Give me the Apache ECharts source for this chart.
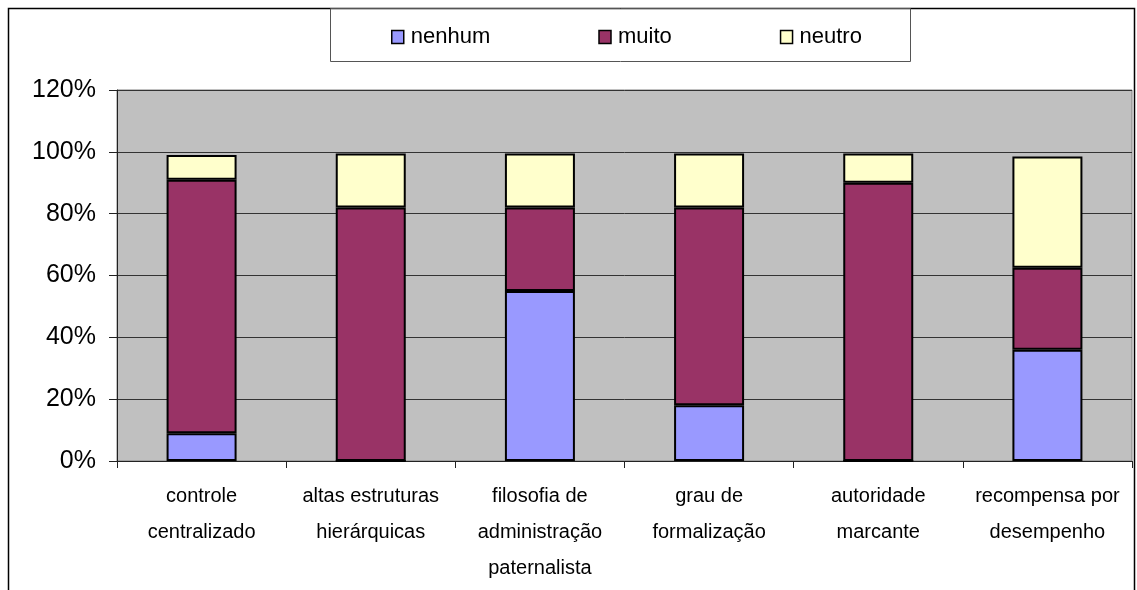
<!DOCTYPE html>
<html>
<head>
<meta charset="utf-8">
<script src="https://cdn.jsdelivr.net/npm/echarts@6/dist/echarts.min.js"></script>
<style>
  html, body { margin: 0; padding: 0; background: #fff; }
  #chart { width: 1137px; height: 590px; }
</style>
</head>
<body>
<div id="chart"></div>
<script>
  // categorias do eixo x
  const categories = [
    'controle\ncentralizado',
    'altas estruturas\nhierárquicas',
    'filosofia de\nadministração\npaternalista',
    'grau de\nformalização',
    'autoridade\nmarcante',
    'recompensa por\ndesempenho'
  ];
  const nenhum = [9, 0, 55, 18, 0, 36];
  const muito = [82, 82, 27, 64, 90, 26.5];
  const neutro = [8, 17.5, 17.5, 17.5, 9.5, 36];
  const yTicks = { min: 0, max: 120, interval: 20 };

  const chart = echarts.init(document.getElementById('chart'));

  const barStyle = (color) => ({
    color: color,
    borderColor: '#000',
    borderWidth: 2
  });

  chart.setOption({
    animation: false,
    backgroundColor: '#fff',
    textStyle: { fontFamily: 'Liberation Sans, Arial, sans-serif' },
    graphic: [
      {
        type: 'rect',
        shape: { x: 8.5, y: 8.5, width: 1126, height: 620 },
        style: { fill: null, stroke: '#000', lineWidth: 1.5 },
        z: 0
      },
      {
        type: 'rect',
        shape: { x: 330.5, y: 8.5, width: 580, height: 53 },
        style: { fill: null, stroke: '#555', lineWidth: 1 },
        z: 1
      }
    ],
    legend: {
      data: ['nenhum', 'muito', 'neutro'],
      left: 386,
      top: 21,
      itemWidth: 12,
      itemHeight: 13,
      itemGap: 108,
      icon: 'rect',
      itemStyle: { borderColor: '#000', borderWidth: 1.5 },
      textStyle: {
        fontFamily: 'Liberation Sans, Arial, sans-serif',
        fontSize: 22,
        color: '#000',
        padding: [0, 0, 0, 2]
      }
    },
    grid: {
      show: true,
      left: 117,
      right: 5,
      top: 90,
      bottom: 129,
      backgroundColor: '#c0c0c0',
      borderColor: '#808080',
      borderWidth: 1
    },
    xAxis: {
      type: 'category',
      data: categories,
      axisLine: { lineStyle: { color: '#222', width: 1 } },
      axisTick: { show: true, length: 7, lineStyle: { color: '#222' } },
      axisLabel: {
        interval: 0,
        margin: 17,
        color: '#000',
        fontSize: 20,
        lineHeight: 36,
        fontFamily: 'Liberation Sans, Arial, sans-serif'
      }
    },
    yAxis: {
      type: 'value',
      min: yTicks.min,
      max: yTicks.max,
      interval: yTicks.interval,
      axisLine: { show: true, lineStyle: { color: '#222', width: 1 } },
      axisTick: { show: true, length: 8, lineStyle: { color: '#222' } },
      splitLine: { lineStyle: { color: '#333', width: 1 } },
      axisLabel: {
        formatter: '{value}%',
        margin: 21,
        color: '#000',
        fontSize: 25,
        fontFamily: 'Liberation Sans, Arial, sans-serif'
      }
    },
    series: [
      { name: 'nenhum', type: 'bar', stack: 'total', barWidth: 70, data: nenhum, itemStyle: barStyle('#9999ff') },
      { name: 'muito', type: 'bar', stack: 'total', barWidth: 70, data: muito, itemStyle: barStyle('#993366') },
      { name: 'neutro', type: 'bar', stack: 'total', barWidth: 70, data: neutro, itemStyle: barStyle('#ffffcc') }
    ]
  });
</script>
</body>
</html>
